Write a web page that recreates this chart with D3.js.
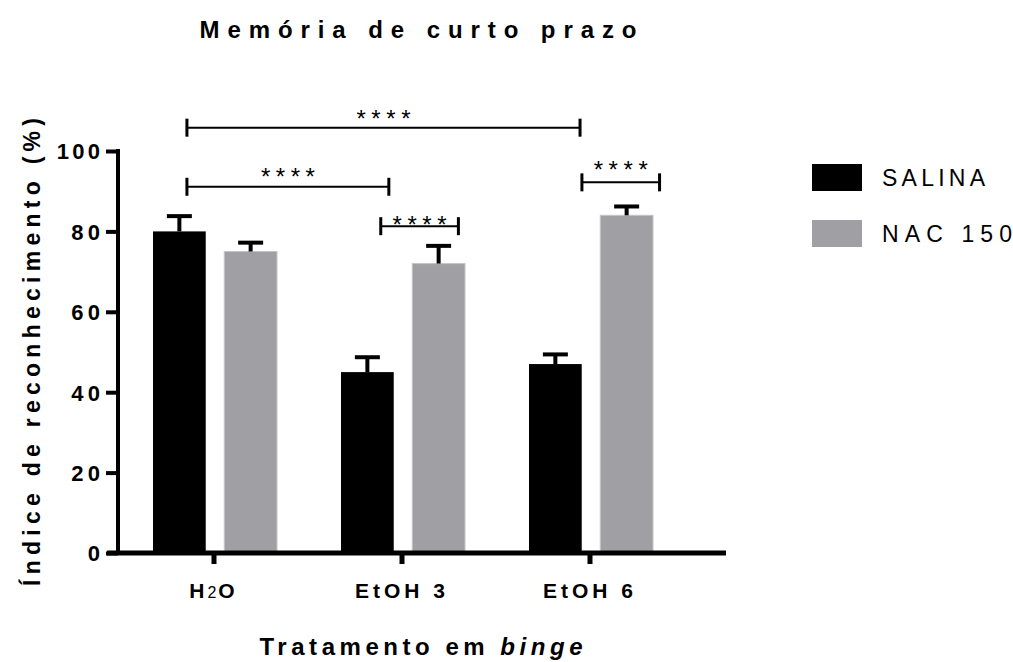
<!DOCTYPE html>
<html>
<head>
<meta charset="utf-8">
<script src="https://cdn.jsdelivr.net/npm/d3@7"></script>
<style>
  body { margin: 0; background: #fff; }
  svg { font-family: "Liberation Sans", Arial, sans-serif; }
</style>
</head>
<body>
<svg id="chart" width="1013" height="662"></svg>
<script>
// data
const groups = ["H2O", "EtOH 3", "EtOH 6"];
const series = ["SALINA", "NAC 150"];
const salinaMean = [80, 45, 47];
const salinaErr = [3.8, 3.7, 2.4];
const nacMean = [75, 72, 84];
const nacErr = [2.2, 4.4, 2.2];
const yTicks = [0, 20, 40, 60, 80, 100];

// significance brackets, x in category units (0 = H2O), y in % units
const bracketFrom = [-0.144, -0.144, 0.887, 1.957];
const bracketTo = [1.947, 0.93, 1.30, 2.37];
const bracketLevel = [105.8, 91.1, 81.3, 92.2];
const bracketStars = ["****", "****", "****", "****"];
const bracketLabelLevel = [109.6, 95.2, 83.4, 96.9];

const colors = {"SALINA": "#000000", "NAC 150": "#a09fa4"};

const svg = d3.select("#chart");

const y = d3.scaleLinear().domain([0, 100]).range([553, 151]);
const x0 = d3.scaleBand().domain(groups).range([120, 684]);
const x1 = d3.scaleBand().domain(series).range([33, 157]).paddingInner(0.26);
const xc = d3.scaleLinear().domain([0, groups.length - 1])
    .range([x0(groups[0]) + x0.bandwidth() / 2, x0(groups[groups.length - 1]) + x0.bandwidth() / 2]);

const rows = [];
groups.forEach((g, i) => {
    rows.push({group: g, key: "SALINA", mean: salinaMean[i], err: salinaErr[i]});
    rows.push({group: g, key: "NAC 150", mean: nacMean[i], err: nacErr[i]});
});

// title
svg.append("text")
    .attr("x", 418).attr("y", 38)
    .attr("text-anchor", "middle")
    .style("font-size", "24px").style("font-weight", "bold")
    .attr("textLength", 437).attr("lengthAdjust", "spacing")
    .text("Memória de curto prazo");

// bars
const bars = svg.append("g");
bars.selectAll("rect")
    .data(rows)
    .join("rect")
    .attr("x", d => x0(d.group) + x1(d.key))
    .attr("width", x1.bandwidth())
    .attr("y", d => y(d.mean))
    .attr("height", d => y(0) - y(d.mean))
    .attr("fill", d => colors[d.key])
    .attr("stroke", d => d.key === "SALINA" ? "none" : "#c4c4c8")
    .attr("stroke-width", 1);

// error bars (upper only)
const eb = bars.selectAll("g.err")
    .data(rows)
    .join("g")
    .attr("class", "err")
    .attr("transform", d => `translate(${x0(d.group) + x1(d.key) + x1.bandwidth() / 2},0)`);
eb.append("line")
    .attr("x1", 0).attr("x2", 0)
    .attr("y1", d => y(d.mean)).attr("y2", d => y(d.mean + d.err))
    .attr("stroke", "#000").attr("stroke-width", 4);
eb.append("line")
    .attr("x1", -12.5).attr("x2", 12.5)
    .attr("y1", d => y(d.mean + d.err)).attr("y2", d => y(d.mean + d.err))
    .attr("stroke", "#000").attr("stroke-width", 4);

// y axis
const yAxis = svg.append("g")
    .attr("transform", "translate(118,0)")
    .call(d3.axisLeft(y).tickValues(yTicks).tickSize(12).tickSizeOuter(0).tickPadding(6));
yAxis.select(".domain").attr("stroke-width", 4).attr("d", `M0,${y(100) - 2}V${y(0)}`);
yAxis.selectAll(".tick line").attr("stroke-width", 4);
yAxis.selectAll(".tick text")
    .style("font-size", "22px").style("font-weight", "bold").attr("fill", "#000")
    .attr("dy", "0.36em")
    .attr("textLength", d => String(d).length * 14.6 - 0.5)
    .attr("lengthAdjust", "spacing");

// x axis
const xAxis = svg.append("g")
    .attr("transform", `translate(0,${y(0)})`)
    .call(d3.axisBottom(x0).tickSize(11).tickSizeOuter(0));
xAxis.select(".domain").remove();
xAxis.append("line")
    .attr("x1", 107).attr("x2", 726)
    .attr("y1", 0).attr("y2", 0)
    .attr("stroke", "#000").attr("stroke-width", 5);
xAxis.selectAll(".tick line").attr("stroke-width", 5);
xAxis.selectAll(".tick text")
    .attr("y", 45).attr("dy", 0).attr("x", -2)
    .style("font-size", "21px").style("font-weight", "bold").attr("fill", "#000")
    .each(function(d) {
        const t = d3.select(this);
        if (d === "H2O") {
            t.text(null);
            t.append("tspan").text("H");
            t.append("tspan").style("font-size", "16px").style("font-weight", "normal").attr("dx", 3).text("2");
            t.append("tspan").attr("dx", 2).text("O");
        } else {
            t.attr("textLength", 90).attr("lengthAdjust", "spacing");
        }
    });

// axis titles
svg.append("text")
    .attr("transform", "translate(40,352) rotate(-90)")
    .attr("text-anchor", "middle")
    .style("font-size", "23px").style("font-weight", "bold")
    .attr("textLength", 468).attr("lengthAdjust", "spacing")
    .text("Índice de reconhecimento (%)");

const xt = svg.append("text")
    .attr("x", 421).attr("y", 655)
    .attr("text-anchor", "middle")
    .style("font-size", "24px").style("font-weight", "bold")
    .attr("textLength", 323).attr("lengthAdjust", "spacing");
xt.append("tspan").text("Tratamento em ");
xt.append("tspan").style("font-style", "italic").text("binge");

// significance brackets
const br = svg.append("g").selectAll("g")
    .data(bracketFrom.map((f, i) => ({from: f, to: bracketTo[i], level: bracketLevel[i],
        stars: bracketStars[i], label: bracketLabelLevel[i]})))
    .join("g");
br.append("line")
    .attr("x1", d => xc(d.from)).attr("x2", d => xc(d.to))
    .attr("y1", d => y(d.level)).attr("y2", d => y(d.level))
    .attr("stroke", "#000").attr("stroke-width", 2);
br.selectAll("line.end")
    .data(d => [{x: xc(d.from), y: y(d.level)}, {x: xc(d.to), y: y(d.level)}])
    .join("line")
    .attr("class", "end")
    .attr("x1", d => d.x).attr("x2", d => d.x)
    .attr("y1", d => d.y - 9).attr("y2", d => d.y + 9)
    .attr("stroke", "#000").attr("stroke-width", 3);
br.append("text")
    .attr("x", d => (xc(d.from) + xc(d.to)) / 2)
    .attr("y", d => y(d.label) + 15)
    .attr("text-anchor", "middle")
    .style("font-size", "24px")
    .attr("textLength", 54).attr("lengthAdjust", "spacing")
    .text(d => d.stars);

// legend
const lg = svg.append("g").selectAll("g")
    .data(series)
    .join("g")
    .attr("transform", (d, i) => `translate(812,${164 + i * 56})`);
lg.append("rect")
    .attr("width", 50).attr("height", 27)
    .attr("fill", d => colors[d]);
lg.append("text")
    .attr("x", 70).attr("y", 22)
    .style("font-size", "23px")
    .attr("textLength", (d, i) => [103, 130][i]).attr("lengthAdjust", "spacing")
    .text(d => d);
</script>
</body>
</html>
